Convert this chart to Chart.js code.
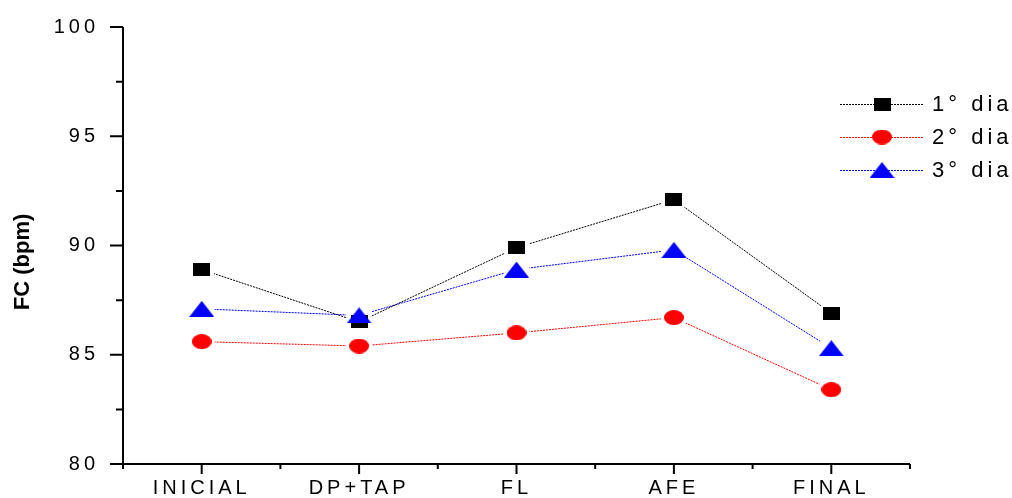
<!DOCTYPE html>
<html>
<head>
<meta charset="utf-8">
<script src="https://cdn.jsdelivr.net/npm/chart.js@4/dist/chart.umd.min.js"></script>
<style>
  html, body { margin: 0; padding: 0; background: #fff; }
  #chart { display: block; }
</style>
</head>
<body>
<canvas id="chart" width="1012" height="498"></canvas>
<script>
// data
const labels = ['INICIAL', 'DP+TAP', 'FL', 'AFE', 'FINAL'];
const seriesNames = ['1° dia', '2° dia', '3° dia'];
const dia1 = [88.9, 86.5, 89.9, 92.1, 86.9];
const dia2 = [85.6, 85.4, 86.0, 86.7, 83.4];
const dia3 = [87.1, 86.8, 88.9, 89.8, 85.3];
const yTicks = [80, 85, 90, 95, 100];

const FONT = 'Arial, "Liberation Sans", sans-serif';
const GAP = 13; // gap between line and marker

function makeMarker(shape, color){
    const c = document.createElement('canvas');
    const size = { square: [17, 13], ellipse: [20, 15], triangle: [25, 16] }[shape];
    c.width = size[0]; c.height = size[1];
    const g = c.getContext('2d');
    g.fillStyle = color;
    if (shape === 'square') g.fillRect(0, 0, c.width, c.height);
    else if (shape === 'ellipse') { g.beginPath(); g.ellipse(c.width/2, c.height/2, c.width/2, c.height/2, 0, 0, Math.PI*2); g.fill(); }
    else { g.beginPath(); g.moveTo(0, c.height); g.lineTo(c.width/2, 0); g.lineTo(c.width, c.height); g.closePath(); g.fill(); }
    return c;
}

const series = [
    { name: seriesNames[0], data: dia1, color: '#000000', marker: makeMarker('square', '#000000') },
    { name: seriesNames[1], data: dia2, color: '#ff0000', marker: makeMarker('ellipse', '#ff0000') },
    { name: seriesNames[2], data: dia3, color: '#0000ff', marker: makeMarker('triangle', '#0000ff') }
];

const datasets = [];
series.forEach((s, i) => {
    datasets.push({ label: s.name + ' line', data: s.data, borderColor: s.color, borderWidth: 1, borderDash: [2, 1],
        pointRadius: 0, pointHoverRadius: 0, fill: false, tension: 0, gapped: true, order: 10 + i });
    datasets.push({ label: s.name, data: s.data, showLine: false, pointStyle: s.marker, pointRadius: 8,
        pointHoverRadius: 8, order: 2 - i });
});

const spacing = '4px';

const gapPlugin = {
    id: 'gaps',
    beforeDatasetDraw(chart, args){
        const ds = chart.data.datasets[args.index];
        if (!ds.gapped) return;
        const ctx = chart.ctx;
        ctx.save();
        ctx.beginPath();
        ctx.rect(0, 0, chart.width, chart.height);
        args.meta.data.forEach(p => { ctx.moveTo(p.x + GAP, p.y); ctx.arc(p.x, p.y, GAP, 0, Math.PI*2); });
        ctx.clip('evenodd');
    },
    afterDatasetDraw(chart, args){
        if (chart.data.datasets[args.index].gapped) chart.ctx.restore();
    }
};

const axesPlugin = {
    id: 'originAxes',
    beforeLayout(chart){ chart.ctx.letterSpacing = spacing; },
    beforeDraw(chart){ chart.ctx.letterSpacing = spacing; },
    beforeDatasetsDraw(chart){
        const ctx = chart.ctx, x = chart.scales.x, y = chart.scales.y;
        const left = chart.chartArea.left, bottom = y.getPixelForValue(80), top = y.getPixelForValue(100);
        ctx.save();
        ctx.strokeStyle = '#000'; ctx.lineWidth = 2; ctx.setLineDash([]);
        ctx.beginPath();
        ctx.moveTo(left, top); ctx.lineTo(left, bottom);
        ctx.moveTo(left, bottom); ctx.lineTo(chart.chartArea.right, bottom);
        // y ticks
        yTicks.forEach((v, i) => {
            const py = y.getPixelForValue(v);
            ctx.moveTo(left, py); ctx.lineTo(left - 13, py);
            if (i < yTicks.length - 1) {
                const pm = y.getPixelForValue(v + 2.5);
                ctx.moveTo(left, pm); ctx.lineTo(left - 7, pm);
            }
        });
        // x ticks
        labels.forEach((l, i) => {
            const px = x.getPixelForValue(i);
            ctx.moveTo(px, bottom); ctx.lineTo(px, bottom + 10);
        });
        for (let i = 0; i <= labels.length; i++) {
            const px = x.getPixelForValue(i - 0.5);
            ctx.moveTo(px, bottom); ctx.lineTo(px, bottom + 5);
        }
        ctx.stroke();
        ctx.restore();
    },
    afterDraw(chart){
        const ctx = chart.ctx;
        ctx.save();
        // axis title
        ctx.letterSpacing = '0px';
        ctx.fillStyle = '#000';
        ctx.font = 'bold 22px ' + FONT;
        ctx.translate(23, 262);
        ctx.rotate(-Math.PI / 2);
        ctx.textAlign = 'center';
        ctx.textBaseline = 'middle';
        ctx.fillText('FC (bpm)', 0, 0);
        ctx.restore();

        // legend
        ctx.save();
        series.forEach((s, i) => {
            const ly = 104 + i * 33;
            ctx.strokeStyle = s.color; ctx.lineWidth = 1; ctx.setLineDash([2, 1]);
            ctx.beginPath(); ctx.moveTo(840, ly + 0.5); ctx.lineTo(923, ly + 0.5); ctx.stroke();
            ctx.drawImage(s.marker, 882 - s.marker.width/2, ly - s.marker.height/2);
            ctx.letterSpacing = '4px';
            ctx.font = '22px ' + FONT;
            ctx.fillStyle = '#000';
            ctx.textAlign = 'left';
            ctx.textBaseline = 'middle';
            ctx.fillText(s.name, 932, ly + 1);
        });
        ctx.restore();
    }
};

new Chart(document.getElementById('chart'), {
    type: 'line',
    data: { labels, datasets },
    options: {
        responsive: false,
        animation: false,
        events: [],
        layout: { padding: { top: 27, right: 102, left: 0, bottom: 0 } },
        plugins: { legend: { display: false }, tooltip: { enabled: false } },
        scales: {
            x: {
                offset: true,
                grid: { display: false, drawTicks: false },
                border: { display: false },
                ticks: { color: '#000', font: { family: FONT, size: 20 }, padding: 12, maxRotation: 0, autoSkip: false },
                afterFit(scale){ scale.height = 34; }
            },
            y: {
                min: 80, max: 100,
                grid: { display: false, drawTicks: false },
                border: { display: false },
                ticks: { stepSize: 5, color: '#000', font: { family: FONT, size: 20 }, padding: 24 },
                afterFit(scale){ scale.width = 123; scale.paddingTop = 0; scale.paddingBottom = 0; }
            }
        }
    },
    plugins: [gapPlugin, axesPlugin]
});
</script>
</body>
</html>
